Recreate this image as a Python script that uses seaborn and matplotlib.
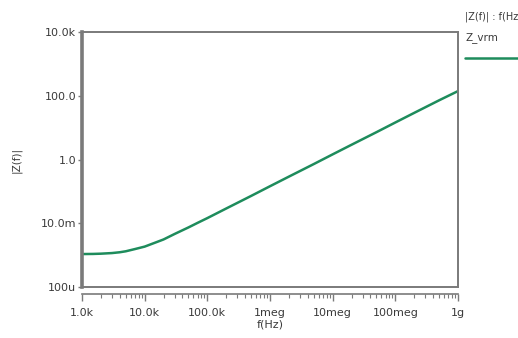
import numpy as np
import pandas as pd
import matplotlib
matplotlib.use("Agg")
import matplotlib.pyplot as plt
import matplotlib.ticker as mticker
from matplotlib.lines import Line2D
import seaborn as sns

# Data
freq_hz = [1e3, 1.5e3, 2e3, 3e3, 4e3, 5e3, 7e3, 1e4, 1.5e4, 2e4, 3e4, 5e4,
           7e4, 1e5, 2e5, 5e5, 1e6, 2e6, 5e6,
           1e7, 2e7, 5e7, 1e8, 2e8, 5e8, 1e9]
z_mag = [1.08e-3, 1.09e-3, 1.11e-3, 1.16e-3, 1.23e-3, 1.32e-3, 1.55e-3, 1.85e-3,
         2.5e-3, 3.1e-3, 4.6e-3, 7.4e-3, 1.03e-2, 1.45e-2, 2.9e-2,
         7.2e-2, 0.145, 0.29, 0.72, 1.45, 2.9, 7.2, 14.5, 29.0, 72.0, 140.0]
series_name = "Z_vrm"
x_ticks = [1e3, 1e4, 1e5, 1e6, 1e7, 1e8, 1e9]
x_labels = ["1.0k", "10.0k", "100.0k", "1meg", "10meg", "100meg", "1g"]
y_ticks = [1e-4, 1e-2, 1, 1e2, 1e4]
y_labels = ["100u", "10.0m", "1.0", "100.0", "10.0k"]

df = pd.DataFrame({"f": freq_hz, "Z": z_mag, "series": series_name})

sns.set_style("white")
plt.rcParams["font.family"] = ["DejaVu Sans"]

fig = plt.figure(figsize=(5.18, 3.38), dpi=100)
ax = fig.add_axes([82/518, 1-287/338, (458-82)/518, (287-32)/338])

green = "#1e8c5c"
sns.lineplot(data=df, x="f", y="Z", ax=ax, color=green, linewidth=1.8, legend=False)
ax.set_xscale("log")
ax.set_yscale("log")
ax.set_xlim(1e3, 1e9)
ax.set_ylim(1e-4, 1e4)

ax.set_xticks(x_ticks)
ax.set_xticklabels(x_labels)
ax.set_yticks(y_ticks)
ax.set_yticklabels(y_labels)
ax.xaxis.set_minor_locator(mticker.LogLocator(base=10, subs=np.arange(2, 10)))
ax.xaxis.set_minor_formatter(mticker.NullFormatter())
ax.yaxis.set_minor_locator(mticker.NullLocator())

txt = "#3a3a3a"
spc = "#7a7a7a"
for s in ["top", "right", "left"]:
    ax.spines[s].set_color(spc)
    ax.spines[s].set_linewidth(1.4)
ax.spines["left"].set_linewidth(2.6)
ax.spines["bottom"].set_color(spc)
ax.spines["bottom"].set_linewidth(1.2)
ax.spines["bottom"].set_position(("outward", 5))
# frame line along the plot bottom
ax.add_line(Line2D([0, 1], [0, 0], transform=ax.transAxes, color=spc,
                   linewidth=1.4, clip_on=False))

ax.tick_params(axis="x", which="major", direction="out", length=5, width=1.0,
               color=spc, labelsize=8, labelcolor=txt, pad=5, bottom=True)
ax.tick_params(axis="x", which="minor", direction="out", length=3, width=0.8,
               color=spc, bottom=True)
ax.tick_params(axis="y", which="major", direction="out", length=3, width=1.0,
               color=spc, labelsize=8, labelcolor=txt, pad=1, left=True)

ax.set_xlabel("f(Hz)", fontsize=8, color=txt, labelpad=1)
ax.set_ylabel("|Z(f)|", fontsize=7.5, color=txt, labelpad=14)
ax.grid(False)

# legend-like annotations on the right
fig.text(465/518, 1-17/338, "|Z(f)| : f(Hz)", fontsize=7, color=txt, va="center", ha="left")
fig.text(465/518, 1-38/338, series_name, fontsize=7.5, color=txt, va="center", ha="left")
fig.add_artist(Line2D([465/518, 518/518], [1-58/338, 1-58/338], transform=fig.transFigure,
                      color=green, linewidth=1.8))

fig.savefig("out.png", dpi=100)
